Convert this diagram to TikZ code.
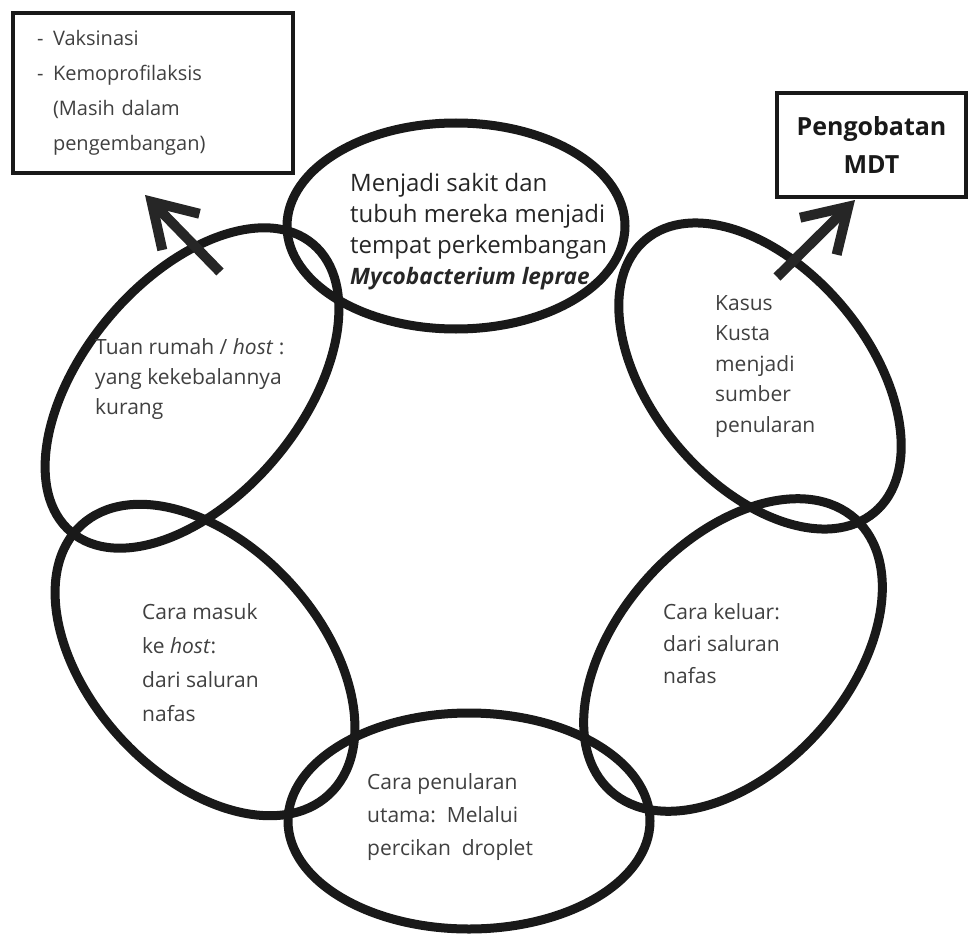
\documentclass[tikz,border=0pt]{standalone}
\usepackage{fontspec}
\setmainfont{Open Sans}
\usetikzlibrary{arrows.meta, shapes.geometric}
\tikzset{
  link/.style={
    ellipse, draw=black!90, line width=9pt, inner sep=0pt
  },
  cycletext/.style={
    anchor=north west, inner sep=0pt, align=left, text=black!75,
    font=\fontsize{21}{30}\selectfont
  },
  infobox/.style={
    rectangle, draw=black!90, line width=4pt, inner sep=0pt
  },
  bigarrow/.style={
    -{Straight Barb[length=42pt,width=52pt]}, line width=10pt, draw=black!85
  }
}

\begin{document}
\begin{tikzpicture}[x=1pt, y=-1pt]
\useasboundingbox (0,0) rectangle (971,936);

% Six links of the chain
\node[link, minimum width=338pt, minimum height=206pt] (sick) at (456,226) {};
\node[link, minimum width=376pt, minimum height=218pt, rotate=50] (host) at (192,388) {};
\node[link, minimum width=356pt, minimum height=216pt, rotate=-50] (source) at (760,376) {};
\node[link, minimum width=366pt, minimum height=230pt, rotate=-47.5] (entry) at (205,660) {};
\node[link, minimum width=366pt, minimum height=230pt, rotate=48] (exit) at (733,655) {};
\node[link, minimum width=362pt, minimum height=216pt] (spread) at (469,821) {};

% Texts inside the links
\node[cycletext, text=black!85, font=\fontsize{24}{31}\selectfont] (sicktxt) at (350,173)
  {Menjadi sakit dan\\tubuh mereka menjadi\\tempat perkembangan\\
   {\fontsize{22.6}{31}\selectfont\textbf{\textit{Mycobacterium leprae}}}};
\node[cycletext] (hosttxt) at (95,338)
  {Tuan rumah / \textit{host} :\\yang kekebalannya\\kurang};
\node[cycletext, font=\fontsize{21}{30.5}\selectfont] (sourcetxt) at (715,295)
  {Kasus\\Kusta\\menjadi\\sumber\\penularan};
\node[cycletext, font=\fontsize{21}{34}\selectfont] (entrytxt) at (142,603)
  {Cara masuk\\ke \textit{host}:\\dari saluran\\nafas};
\node[cycletext, font=\fontsize{21}{32}\selectfont] (exittxt) at (663,603)
  {Cara keluar:\\dari saluran\\nafas};
\node[cycletext, font=\fontsize{21}{33}\selectfont] (spreadtxt) at (367,773)
  {Cara penularan\\utama:\ \ Melalui\\percikan\ \ droplet};

% Prevention and treatment boxes
\node[infobox, minimum width=280pt, minimum height=160pt, text width=232pt,
      align=left, text=black!75, font=\fontsize{20}{35}\selectfont] (prevent) at (153,93)
  {\makebox[16pt][l]{-}Vaksinasi\\\makebox[16pt][l]{-}Kemoprofilaksis\\
   \hspace*{16pt}(Masih dalam\\\hspace*{16pt}pengembangan)};
\node[infobox, minimum width=189pt, minimum height=104pt, align=center,
      text=black!90, font=\fontsize{25}{38}\selectfont\bfseries] (mdt) at (871.5,145)
  {Pengobatan\\MDT};

% Arrows towards the boxes
\coordinate (hostout) at (220,272);
\coordinate (hosttip) at (145,195);
\coordinate (sourceout) at (777,277);
\coordinate (sourcetip) at (855,200);
\draw[bigarrow] (hostout) -- (hosttip);
\draw[bigarrow] (sourceout) -- (sourcetip);

\end{tikzpicture}
\end{document}
